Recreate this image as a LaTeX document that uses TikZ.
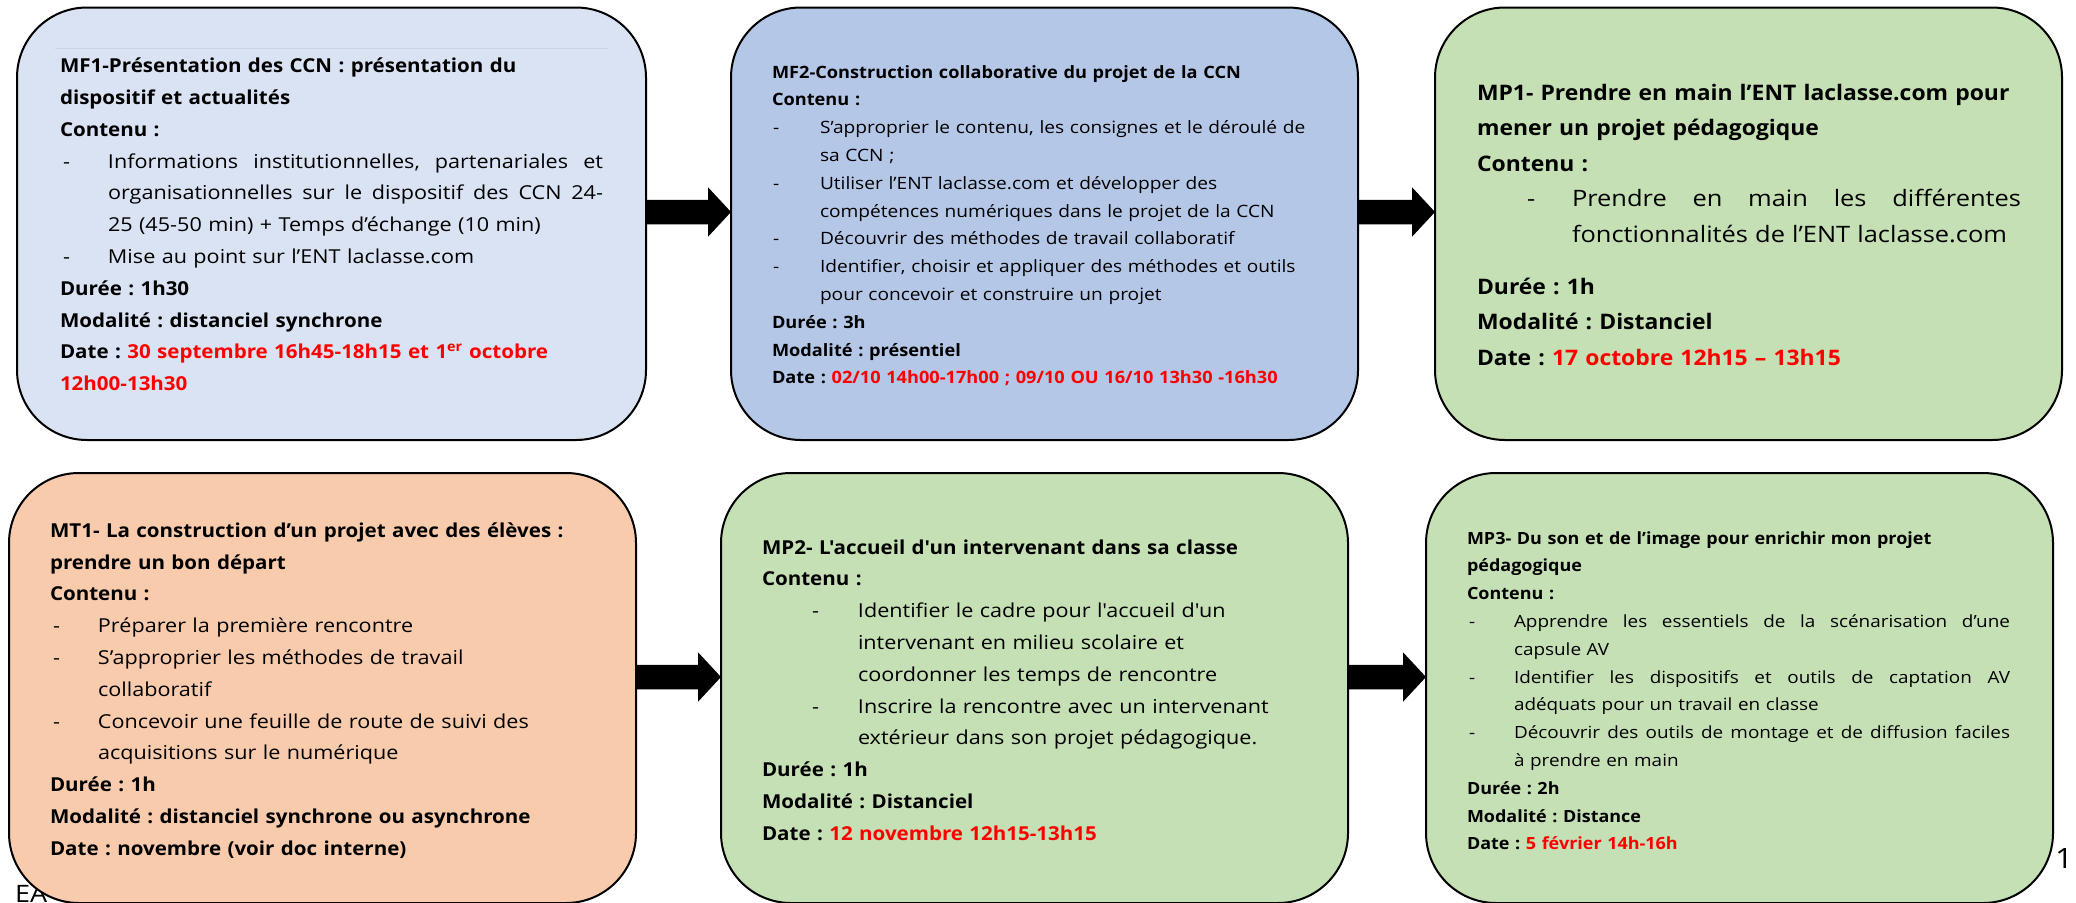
\documentclass[tikz,border=0pt]{standalone}
\usepackage{fontspec}
\setmainfont{Open Sans}[Ligatures=TeXOff, FakeStretch=1.125, BoldFeatures={FakeStretch=1.07}]
\usetikzlibrary{calc}
\definecolor{bluelt}{HTML}{DAE3F3}
\definecolor{bluemd}{HTML}{B4C7E7}
\definecolor{greenlt}{HTML}{C5E0B4}
\definecolor{orangelt}{HTML}{F8CBAD}
\definecolor{datered}{HTML}{FF0000}
\definecolor{faintline}{HTML}{C9D4E8}
\tikzset{
  card/.style={rectangle, draw=black, line width=2pt, rounded corners=70pt, inner sep=0pt, outer sep=0pt},
  body/.style={anchor=base west, inner sep=0pt, outer sep=0pt, align=left, text width=640pt},
  arrowfill/.style={fill=black},
  mark label/.style={inner sep=0pt, outer sep=0pt},
}
\newcommand\bitem[3]{\hspace*{#1}\makebox[#2][l]{-}#3}
\newcommand\just[2]{\makebox[#1][s]{\spaceskip=.3333em plus 1fil\relax #2}}
\newcommand\datetxt[1]{\textcolor{datered}{#1}}
\newcommand\blockarrow[3]{%
  \fill[arrowfill] ($(#1.east |- 0,#3)+(0,-12.25)$) -- ($(#2.west |- 0,#3)+(-23,-12.25)$)
    -- ($(#2.west |- 0,#3)+(-23,-24.75)$) -- (#2.west |- 0,#3)
    -- ($(#2.west |- 0,#3)+(-23,24.75)$) -- ($(#2.west |- 0,#3)+(-23,12.25)$)
    -- ($(#1.east |- 0,#3)+(0,12.25)$) -- cycle;}
\begin{document}
\frenchspacing
\begin{tikzpicture}[x=1pt,y=-1pt]
\useasboundingbox[fill=white] (0,0) rectangle (2076,902);

% footer text partly hidden behind the lower-left card
\node[mark label, anchor=north west, font=\fontsize{24}{24}\selectfont] (ea) at (15,885) {EA};

% cards
\node[card, fill=bluelt, minimum width=629pt, minimum height=432.5pt] (b1) at (331.5,223.75) {};
\node[card, fill=bluemd, minimum width=627pt, minimum height=432.5pt] (b2) at (1044.5,223.75) {};
\node[card, fill=greenlt, minimum width=627pt, minimum height=432.5pt] (b3) at (1748.5,223.75) {};
\node[card, fill=orangelt, minimum width=627pt, minimum height=430pt] (b4) at (322.5,688) {};
\node[card, fill=greenlt, minimum width=627pt, minimum height=430pt] (b5) at (1034.5,688) {};
\node[card, fill=greenlt, minimum width=627pt, minimum height=430pt] (b6) at (1739.5,688) {};

\draw[faintline, line width=1pt] (55,48) -- (608,48);

% arrows
\blockarrow{b1}{b2}{212}
\blockarrow{b2}{b3}{212}
\blockarrow{b4}{b5}{677}
\blockarrow{b5}{b6}{677}

% texts
\node[body, font=\fontsize{19.2}{31.8}\selectfont] (t1) at (60,72.7) {%
\textbf{MF1-Présentation des CCN : présentation du}\\
\textbf{dispositif et actualités}\\
\textbf{Contenu :}\\
\bitem{3pt}{45pt}{\just{495pt}{Informations institutionnelles, partenariales et}}\\
\hspace*{48pt}\just{495pt}{organisationnelles sur le dispositif des CCN 24-}\\
\hspace*{48pt}25 (45-50 min) + Temps d’échange (10 min)\\
\bitem{3pt}{45pt}{Mise au point sur l’ENT laclasse.com}\\
\textbf{Durée : 1h30}\\
\textbf{Modalité : distanciel synchrone}\\
\textbf{Date : \datetxt{30 septembre 16h45-18h15 et 1\textsuperscript{er} octobre}}\\
\textbf{\datetxt{12h00-13h30}}};

\node[body, font=\fontsize{17}{27.8}\selectfont] (t2) at (772,78) {%
\textbf{MF2-Construction collaborative du projet de la CCN}\\
\textbf{Contenu :}\\
\bitem{1pt}{47pt}{S’approprier le contenu, les consignes et le déroulé de}\\
\hspace*{48pt}sa CCN ;\\
\bitem{1pt}{47pt}{Utiliser l’ENT laclasse.com et développer des}\\
\hspace*{48pt}compétences numériques dans le projet de la CCN\\
\bitem{1pt}{47pt}{Découvrir des méthodes de travail collaboratif}\\
\bitem{1pt}{47pt}{Identifier, choisir et appliquer des méthodes et outils}\\
\hspace*{48pt}pour concevoir et construire un projet\\
\textbf{Durée : 3h}\\
\textbf{Modalité : présentiel}\\
\textbf{Date : \datetxt{02/10 14h00-17h00 ; 09/10 OU 16/10 13h30 -16h30}}};

\node[body, font=\fontsize{21.4}{35.5}\selectfont] (t3) at (1477,100) {%
\textbf{MP1- Prendre en main l’ENT laclasse.com pour}\\
\textbf{mener un projet pédagogique}\\
\textbf{Contenu :}\\
{\fontsize{22.6}{35.5}\selectfont\bitem{50pt}{45pt}{\just{449pt}{Prendre en main les différentes}}}\\
{\fontsize{22.6}{35.5}\selectfont\hspace*{95pt}fonctionnalités de l’ENT laclasse.com}\\[16.5pt]
\textbf{Durée : 1h}\\
\textbf{Modalité : Distanciel}\\
\textbf{Date : \datetxt{17 octobre 12h15 – 13h15}}};

\node[body, font=\fontsize{19.2}{31.8}\selectfont] (t4) at (50,537.3) {%
\textbf{MT1- La construction d’un projet avec des élèves :}\\
\textbf{prendre un bon départ}\\
\textbf{Contenu :}\\
\bitem{3pt}{45pt}{Préparer la première rencontre}\\
\bitem{3pt}{45pt}{S’approprier les méthodes de travail}\\
\hspace*{48pt}collaboratif\\
\bitem{3pt}{45pt}{Concevoir une feuille de route de suivi des}\\
\hspace*{48pt}acquisitions sur le numérique\\
\textbf{Durée : 1h}\\
\textbf{Modalité : distanciel synchrone ou asynchrone}\\
\textbf{Date : novembre (voir doc interne)}};

\node[body, font=\fontsize{19.2}{31.8}\selectfont] (t5) at (762,554) {%
\textbf{MP2- L'accueil d'un intervenant dans sa classe}\\
\textbf{Contenu :}\\
\bitem{50pt}{46pt}{Identifier le cadre pour l'accueil d'un}\\
\hspace*{96pt}intervenant en milieu scolaire et\\
\hspace*{96pt}coordonner les temps de rencontre\\
\bitem{50pt}{46pt}{Inscrire la rencontre avec un intervenant}\\
\hspace*{96pt}extérieur dans son projet pédagogique.\\
\textbf{Durée : 1h}\\
\textbf{Modalité : Distanciel}\\
\textbf{Date : \datetxt{12 novembre 12h15-13h15}}};

\node[body, font=\fontsize{16.8}{27.8}\selectfont] (t6) at (1467,544) {%
\textbf{MP3- Du son et de l’image pour enrichir mon projet}\\
\textbf{pédagogique}\\
\textbf{Contenu :}\\
\bitem{2pt}{45pt}{\just{496pt}{Apprendre les essentiels de la scénarisation d’une}}\\
\hspace*{47pt}capsule AV\\
\bitem{2pt}{45pt}{\just{496pt}{Identifier les dispositifs et outils de captation AV}}\\
\hspace*{47pt}adéquats pour un travail en classe\\
\bitem{2pt}{45pt}{\just{496pt}{Découvrir des outils de montage et de diffusion faciles}}\\
\hspace*{47pt}à prendre en main\\
\textbf{Durée : 2h}\\
\textbf{Modalité : Distance}\\
\textbf{Date : \datetxt{5 février 14h-16h}}};

% page number
\node[mark label, anchor=base west, font=\fontsize{28}{28}\selectfont] (pg) at (2055,868) {1};
\end{tikzpicture}
\end{document}
